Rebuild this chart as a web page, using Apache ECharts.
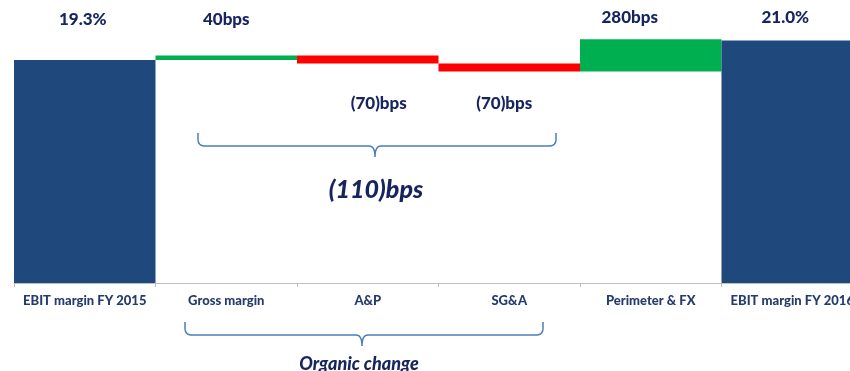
<!DOCTYPE html>
<html><head><meta charset="utf-8">
<script src="https://cdn.jsdelivr.net/npm/echarts@6/dist/echarts.min.js"></script>
<style>html,body{margin:0;padding:0;background:#fff;overflow:hidden;width:850px;height:371px}#c{width:863px;height:371px}</style>
</head><body><div id="c"></div>
<script>
var categories = ['EBIT margin FY 2015','Gross margin','A&P','SG&A','Perimeter & FX','EBIT margin FY 2016'];
var values = [19.3, 0.4, -0.7, -0.7, 2.8, 21.0];
var isTotal = [true, false, false, false, false, true];
var valueLabels = ['19.3%','40bps','(70)bps','(70)bps','280bps','21.0%'];
var organicLabel = '(110)bps';
var groupLabel = 'Organic change';

var NAVY='#1F497D', GREEN='#00B050', RED='#FF0000';
var labelDist = [32, 27, 31, 23, 13, 14];
var labelDx = [-2, 0, 11, -5, -21, -7];

var base = [], height = [], running = 0;
for (var i=0;i<values.length;i++){
  if (isTotal[i]) { base.push(0); height.push(values[i]); running = values[i]; }
  else {
    var next = running + values[i];
    base.push(Math.min(running,next)); height.push(Math.abs(values[i])); running = next;
  }
}
var visData = height.map(function(h,i){
  var color = isTotal[i] ? NAVY : (values[i] >= 0 ? GREEN : RED);
  var neg = !isTotal[i] && values[i] < 0;
  return {
    value: h,
    itemStyle: {color: color},
    label: {show:true, position: neg?'bottom':'top', distance: labelDist[i], offset:[labelDx[i],0],
      formatter: valueLabels[i]}
  };
});

function brace(x0, x1, xm, yTop, yLine, yTip, r){
  var pts = [];
  function q(p0,p1,p2){ for (var t=0;t<=1.0001;t+=0.125){ var a=(1-t)*(1-t), b=2*(1-t)*t, c=t*t;
    pts.push([a*p0[0]+b*p1[0]+c*p2[0], a*p0[1]+b*p1[1]+c*p2[1]]); } }
  pts.push([x0,yTop]);
  q([x0,yLine-r],[x0,yLine],[x0+r,yLine]);
  pts.push([xm-6,yLine]);
  q([xm-6,yLine],[xm,yLine],[xm,yTip]);
  q([xm,yTip],[xm,yLine],[xm+6,yLine]);
  pts.push([x1-r,yLine]);
  q([x1-r,yLine],[x1,yLine],[x1,yLine-r]);
  pts.push([x1,yTop]);
  return pts;
}

var chart = echarts.init(document.getElementById('c'));
chart.setOption({
  animation:false,
  grid:{left:14, right:0, top:0, bottom:88},
  xAxis:{type:'category', data:categories, boundaryGap:true,
    axisLine:{lineStyle:{color:'#BFBFBF', width:1}},
    axisTick:{show:true, length:4, lineStyle:{color:'#BFBFBF'}},
    axisLabel:{interval:0, margin:11, color:'#263C6B', fontFamily:'Lato', fontWeight:900, fontSize:13}},
  yAxis:{type:'value', min:0, max:24.5, show:false, splitLine:{show:false}},
  series:[
    {type:'bar', stack:'w', data:base, barWidth:'100%', barCategoryGap:0, itemStyle:{color:'transparent'}, silent:true},
    {type:'bar', stack:'w', data:visData, barWidth:'100%', barCategoryGap:0,
      label:{color:'#17255F', fontFamily:'Lato', fontWeight:900, fontSize:17}}
  ],
  graphic:[
    {type:'polyline', shape:{points:brace(198,556,375,133,146,157,7)},
      style:{fill:null, stroke:'#4A7EBB', lineWidth:1.5}},
    {type:'text', x:376, y:190, style:{text:organicLabel, align:'center', verticalAlign:'middle',
      fill:'#17255F', font:'italic 900 25px Lato'}},
    {type:'polyline', shape:{points:brace(185,543,362,322,335,346,7)},
      style:{fill:null, stroke:'#4A7EBB', lineWidth:1.5}},
    {type:'text', x:359, y:364, style:{text:groupLabel, align:'center', verticalAlign:'middle',
      fill:'#17255F', font:'italic 900 18px Lato'}}
  ]
});
</script></body></html>
